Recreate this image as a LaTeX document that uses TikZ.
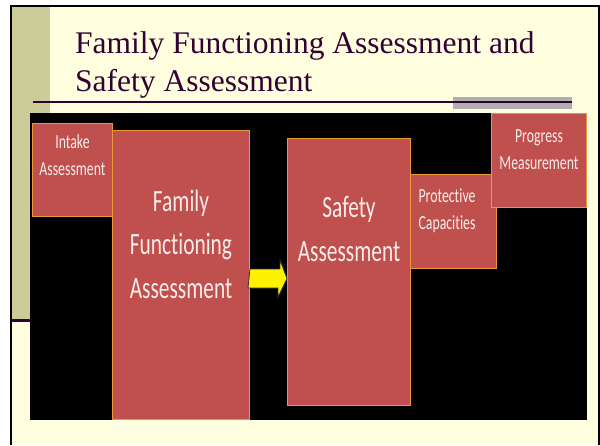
\documentclass[tikz,border=0pt]{standalone}
\usepackage{fontspec}
\setmainfont{Liberation Serif}
\newfontfamily\boxfont[FakeStretch=0.69,Ligatures=NoCommon]{Carlito}
\usetikzlibrary{positioning}
\definecolor{slidecream}{RGB}{255,255,224}
\definecolor{slideolive}{RGB}{204,204,153}
\definecolor{slideplum}{RGB}{51,0,51}
\definecolor{slidegray}{RGB}{176,176,176}
\definecolor{boxred}{RGB}{192,80,77}
\definecolor{boxedge}{RGB}{236,150,60}
\definecolor{boxtext}{RGB}{248,236,234}

\begin{document}
\begin{tikzpicture}[x=1pt,y=-1pt,
  box/.style={draw=boxedge,line width=1pt,fill=boxred,inner sep=0pt,anchor=north west},
  big/.style={font=\boxfont\fontsize{31}{43.5}\selectfont,text=boxtext,align=center,inner sep=0pt},
  lab/.style={font=\boxfont\fontsize{20}{27}\selectfont,text=boxtext,align=center,inner sep=0pt},
  title/.style={font=\fontsize{31.5}{38}\selectfont,text=slideplum,align=left,inner sep=0pt},
  blockarrow/.style={draw=black!80,fill=yellow,line width=0.8pt,line join=miter}
]
\useasboundingbox (0,0) rectangle (600,445);
\fill[white] (0,0) rectangle (600,445);
\fill[slidecream] (11,5.5) rectangle (598.5,445);
\fill[slideolive] (12,6.5) rectangle (50,319);
\draw[slideplum,line width=3pt] (12,320.5) -- (50,320.5);
\draw[line width=2pt] (11,445) -- (11,5.5) -- (598.5,5.5) -- (598.5,445);

\node[title,anchor=north west] (title) at (75,31.5)
  {Family Functioning Assessment and\\Safety Assessment};
\fill[slidegray] (453,97) rectangle (572,109);
\draw[slideplum,line width=2.5pt] (33,102) -- (572,102);

\fill[black] (30,113) rectangle (587,420);
\node[box,minimum width=80pt,minimum height=93pt] (intake) at (32,123) {};
\node[box,minimum width=137pt,minimum height=289pt] (ff) at (112,130) {};
\node[box,minimum width=123pt,minimum height=267pt] (safety) at (287,138) {};
\node[box,minimum width=86pt,minimum height=94pt] (protect) at (410,174) {};
\node[box,minimum width=95pt,minimum height=94pt] (progress) at (491,113) {};

\node[lab,below=11pt of intake.north] (intaketxt) {Intake\\Assessment};
\node[big,below=59.5pt of ff.north] (fftxt) {Family\\Functioning\\Assessment};
\node[big,below=58.5pt of safety.north] (safetytxt) {Safety\\Assessment};
\node[lab,below=15pt of protect.north,xshift=-6.5pt] (protecttxt) {Protective\\Capacities};
\node[lab,below=16pt of progress.north] (progresstxt) {Progress\\Measurement};

\coordinate (arrowrow) at (0,278.5);
\draw[blockarrow] (ff.east |- arrowrow) ++(0,-9.5) -- ++(30,0) -- ++(0,-9)
  -- (safety.west |- arrowrow) -- ++(-9,18.5) -- ++(0,-9) -- ++(-30,0) -- cycle;
\end{tikzpicture}
\end{document}
